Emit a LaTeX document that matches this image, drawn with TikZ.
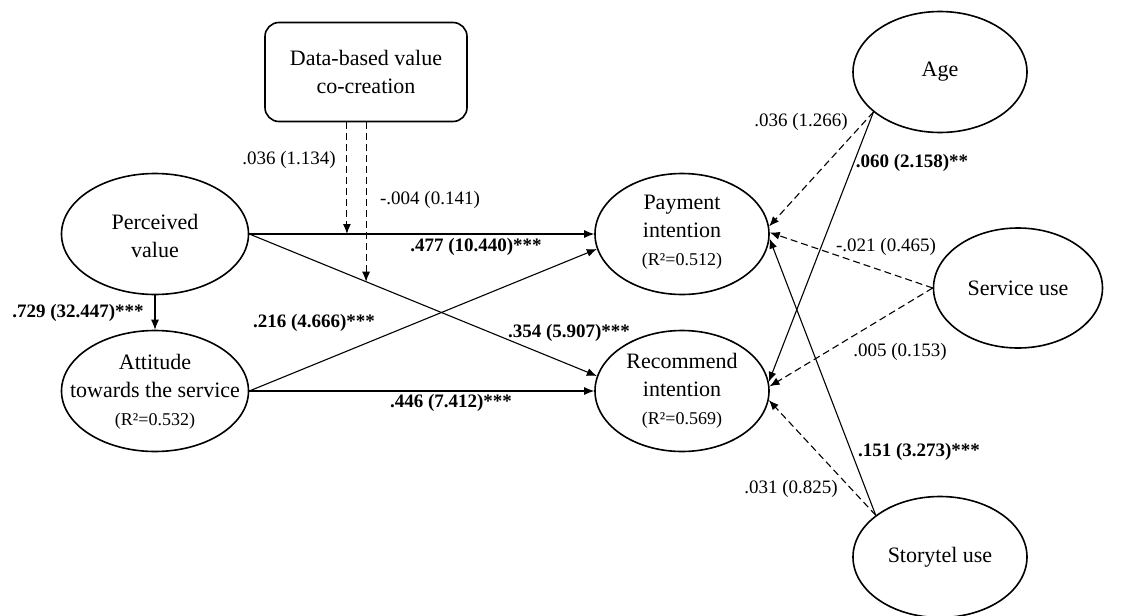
\documentclass[tikz,border=0pt]{standalone}
\usepackage{fontspec}
\setmainfont{Liberation Serif}
\usetikzlibrary{arrows.meta,shapes.geometric,calc}

\tikzset{
  latent/.style={ellipse, draw, line width=1.6pt, inner sep=0pt,
    minimum width=174pt, minimum height=121pt},
  inner/.style={align=center, font=\fontsize{22}{28}\selectfont},
  path/.style={line width=1.1pt, -{Latex[length=10pt,width=8pt]}},
  moder/.style={path, dash pattern=on 7pt off 4pt},
  coef/.style={font=\fontsize{19}{22}\selectfont},
  sig/.style={font=\fontsize{19}{22}\selectfont\bfseries}
}
\newcommand{\rsq}[1]{{\fontsize{18}{22}\selectfont(R²=#1)}}

\begin{document}
\begin{tikzpicture}[x=1pt,y=-1pt]
  %%%%% START %%%%%
  \useasboundingbox (0,0) rectangle (1136,616);

  % constructs
  \node[draw, rounded corners=14pt, line width=1.6pt, minimum width=202pt,
    minimum height=99pt, inner sep=0pt] (dvc) at (366,72) {};
  \node[inner] (dvc-t) at (dvc) {Data-based value\\co-creation};

  \node[latent, minimum width=187pt] (pv) at (155,234) {};
  \node[inner] (pv-t) at (155,236) {Perceived\\value};

  \node[latent, minimum width=187pt] (att) at (155,391) {};
  \node[inner] (att-t) at (155,392) {Attitude\\towards the service\\\rsq{0.532}};

  \node[latent] (pi) at (682,234) {};
  \node[inner] (pi-t) at (682,232) {Payment\\intention\\\rsq{0.512}};

  \node[latent] (ri) at (682,391) {};
  \node[inner] (ri-t) at (682,391) {Recommend\\intention\\\rsq{0.569}};

  % controls
  \node[latent] (age) at (940,72) {};
  \node[inner] (age-t) at (age) {Age};
  \node[latent, minimum width=169pt, minimum height=120pt] (svc) at (1018,288) {};
  \node[inner] (svc-t) at (svc) {Service use};
  \node[latent] (sty) at (940,557) {};
  \node[inner] (sty-t) at (sty) {Storytel use};

  % main paths
  \draw[path] (pv.south) -- (att.north);
  \draw[path] (pv.east) -- (pi.west);
  \draw[path] (pv.east) -- (ri.170);
  \draw[path] (att.east) -- (pi.190);
  \draw[path] (att.east) -- (ri.west);

  % moderation
  \coordinate (m1) at ($(pv.east)!0.283!(pi.west)$);
  \coordinate (m2) at ($(pv.east)!0.336!(ri.170)$);
  \draw[moder] (dvc.south -| m1) -- (m1);
  \draw[moder] (dvc.south -| m2) -- (m2);

  % control paths
  \draw[moder] (age.211) -- (pi.5);
  \draw[path] (age.211) -- (ri.6);
  \draw[moder] (svc.west) -- (pi.1);
  \draw[moder] (svc.west) -- (ri.3);
  \draw[path] (sty.147) -- (pi.-3);
  \draw[moder] (sty.147) -- (ri.-6);

  % coefficients
  \node[sig] (c-pvatt) at (78,313) {.729 (32.447)***};
  \node[coef] (c-m1) at (289,160) {.036 (1.134)};
  \node[coef] (c-m2) at (430,200) {-.004 (0.141)};
  \node[sig] (c-pvpi) at (476,247) {.477 (10.440)***};
  \node[sig] (c-attpi) at (314,323) {.216 (4.666)***};
  \node[sig] (c-pvri) at (569,333) {.354 (5.907)***};
  \node[sig] (c-attri) at (451,403) {.446 (7.412)***};

  \node[coef] (c-agepi) at (801,122) {.036 (1.266)};
  \node[sig] (c-ageri) at (912,163) {.060 (2.158)**};
  \node[coef] (c-svcpi) at (886,247) {-.021 (0.465)};
  \node[coef] (c-svcri) at (900,352) {.005 (0.153)};
  \node[sig] (c-stypi) at (919,452) {.151 (3.273)***};
  \node[coef] (c-styri) at (791,489) {.031 (0.825)};
  %%%%% END %%%%%
\end{tikzpicture}
\end{document}
